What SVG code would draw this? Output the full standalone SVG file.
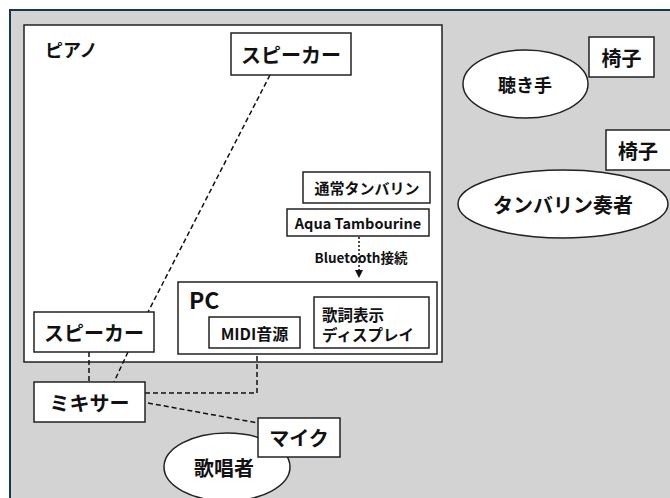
<svg xmlns="http://www.w3.org/2000/svg" width="670" height="498" viewBox="0 0 670 498">
<style>
text{font-family:"Noto Sans CJK JP","Noto Sans",sans-serif;font-weight:bold;fill:#111;}
.box{fill:#fff;stroke:#222;stroke-width:1.5;}
.c{text-anchor:middle;dominant-baseline:central;}
.dash{fill:none;stroke:#111;stroke-width:1.5;stroke-dasharray:5 3;}
</style>
<rect x="0" y="0" width="670" height="498" fill="#fff"/>
<rect id="room" x="10" y="10" width="680" height="510" fill="#d3d3d3" stroke="#17374a" stroke-width="2"/>
<g id="piano"><rect x="24" y="25" width="418" height="337" class="box" stroke-width="2"/><text x="45" y="49" font-size="18" dominant-baseline="central">ピアノ</text></g>
<g id="connectors">
<line x1="270" y1="75" x2="148" y2="312" class="dash"/>
<line x1="89" y1="352" x2="89" y2="382" class="dash"/>
<line x1="128" y1="352" x2="114" y2="382" class="dash"/>
<path d="M145,393 H257 V348" class="dash"/>
<line x1="148" y1="403" x2="258" y2="423" class="dash"/>
<line x1="359" y1="237" x2="359" y2="270" fill="none" stroke="#111" stroke-width="1.5" stroke-dasharray="2 2"/>
<path d="M355,270 L363,270 L359,278 Z" fill="#111"/>
</g>
<g id="speaker-top"><rect x="231" y="33" width="120" height="42" class="box"/><text x="291" y="54" font-size="20" class="c">スピーカー</text></g>
<g id="tambourine"><rect x="303" y="172" width="127" height="31" class="box"/><text x="367" y="187.5" font-size="15" class="c">通常タンバリン</text></g>
<g id="aqua"><rect x="287" y="209" width="142" height="27" class="box"/><text x="358" y="222.5" font-size="14.5" class="c">Aqua Tambourine</text></g>
<g id="bt-label"><text x="361" y="257" font-size="13.5" class="c">Bluetooth接続</text></g>
<g id="pc"><rect x="178" y="282" width="259" height="72" class="box" stroke-width="2"/><text x="189" y="299" font-size="23" dominant-baseline="central">PC</text></g>
<g id="midi"><rect x="209" y="317" width="91" height="31" class="box"/><text x="254.5" y="332.5" font-size="16" class="c">MIDI音源</text></g>
<g id="lyrics"><rect x="314" y="297" width="115" height="51" class="box"/><text x="322" y="314" font-size="15.5" dominant-baseline="central">歌詞表示</text><text x="322" y="334" font-size="15.5" dominant-baseline="central">ディスプレイ</text></g>
<g id="speaker-left"><rect x="34" y="312" width="120" height="40" class="box"/><text x="94" y="332" font-size="20" class="c">スピーカー</text></g>
<g id="mixer"><rect x="34" y="382" width="111" height="40" class="box"/><text x="89.5" y="402" font-size="20" class="c">ミキサー</text></g>
<g id="singer"><ellipse cx="227" cy="467" rx="63" ry="34" class="box"/><text x="224" y="467" font-size="20" class="c">歌唱者</text></g>
<g id="mic"><rect x="258" y="418" width="82" height="39" class="box"/><text x="299" y="437.5" font-size="20" class="c">マイク</text></g>
<g id="listener"><ellipse cx="525.5" cy="84" rx="62.5" ry="34" class="box"/><text x="525" y="84" font-size="18" class="c">聴き手</text></g>
<g id="chair1"><rect x="589" y="37" width="65" height="40" class="box"/><text x="621.5" y="57" font-size="20" class="c">椅子</text></g>
<g id="player"><ellipse cx="563" cy="204" rx="105" ry="34" class="box"/><text x="563" y="204" font-size="20" class="c">タンバリン奏者</text></g>
<g id="chair2"><rect x="606" y="130" width="70" height="40" class="box"/><text x="638" y="150" font-size="20" class="c">椅子</text></g>
</svg>
